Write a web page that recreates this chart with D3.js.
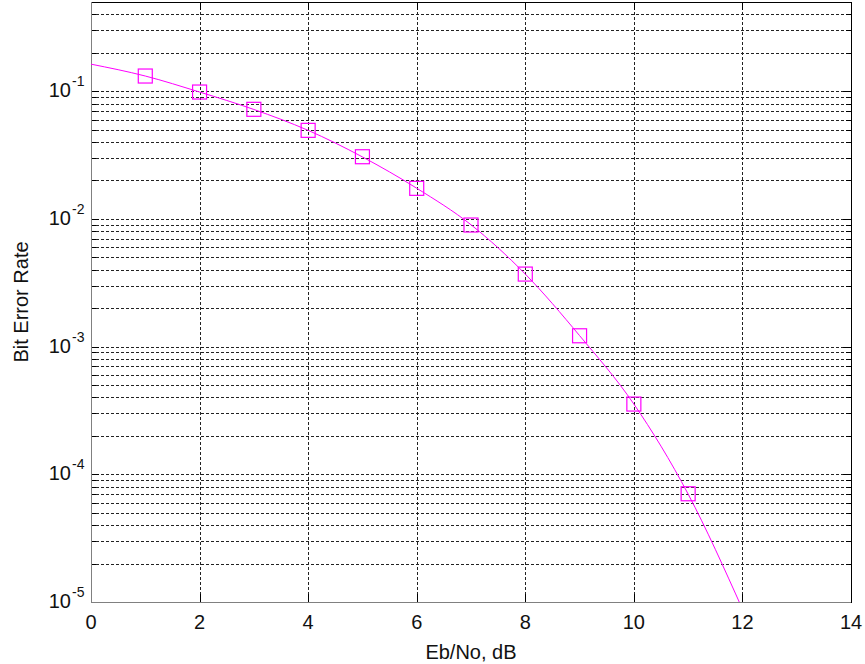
<!DOCTYPE html>
<html>
<head>
<meta charset="utf-8">
<script src="https://cdn.jsdelivr.net/npm/d3@7"></script>
<style>
  body { margin: 0; background: #fff; }
  svg { display: block; font-family: "Liberation Sans", Arial, sans-serif; }
</style>
</head>
<body>
<svg></svg>
<script>
const ebnoSim = [1, 2, 3, 4, 5, 6, 7, 8, 9, 10, 11],
  berSim = [0.1316, 0.0986, 0.0722, 0.0494, 0.0307, 0.01736, 0.00896, 0.0037, 0.001216, 0.000355, 7.04e-5],
  ebnoTheory = [0, 1, 2, 3, 4, 5, 6, 7, 8, 9, 10, 11, 12],
  berTheory = [0.163, 0.1316, 0.0986, 0.072, 0.0494, 0.0306, 0.0174, 0.009, 0.0037, 0.00122, 0.000355, 7.0e-5, 8.8e-6],
  xTicks = [0, 2, 4, 6, 8, 10, 12, 14],
  yMajor = [1e-5, 1e-4, 1e-3, 1e-2, 1e-1],
  yExp = ["-5", "-4", "-3", "-2", "-1"],
  X_LABEL = "Eb/No, dB",
  Y_LABEL = "Bit Error Rate";

const W = 865, H = 664,
  margin = { top: 2, right: 14, bottom: 62, left: 91 },
  width = W - margin.left - margin.right,
  height = H - margin.top - margin.bottom,
  magenta = "#ff00ff";

const svg = d3.select("svg").attr("width", W).attr("height", H);
const chart = svg.append("g")
  .attr("transform", "translate(" + margin.left + "," + margin.top + ")");

const x = d3.scaleLinear().domain([0, 14]).range([0, width]);
const y = d3.scaleLog().domain([1e-5, 0.5]).range([height, 0]);

// minor values 2..9 per decade, inside the domain
const yMinor = [];
yMajor.forEach(m => {
  for (let k = 2; k <= 9; k++) {
    const v = m * k;
    if (v < 0.5 + 1e-9) yMinor.push(v);
  }
});

// grid
const grid = chart.append("g")
  .attr("stroke", "#222")
  .attr("stroke-dasharray", "3,2")
  .attr("shape-rendering", "crispEdges");

grid.selectAll(".hg")
  .data(yMajor.concat(yMinor).filter(v => v > 1e-5))
  .enter().append("line")
  .attr("x1", 0).attr("x2", width)
  .attr("y1", d => Math.round(y(d)) + 0.5)
  .attr("y2", d => Math.round(y(d)) + 0.5);

grid.selectAll(".vg")
  .data(xTicks.filter(t => t > 0 && t < 14))
  .enter().append("line")
  .attr("y1", 0).attr("y2", height)
  .attr("x1", d => Math.round(x(d)) + 0.5)
  .attr("x2", d => Math.round(x(d)) + 0.5);

// inward tick marks, both sides
const ticks = chart.append("g").attr("stroke", "#000").attr("shape-rendering", "crispEdges");
function yTick(vals, len) {
  vals.forEach(v => {
    const yy = Math.round(y(v)) + 0.5;
    ticks.append("line").attr("x1", 0).attr("x2", len).attr("y1", yy).attr("y2", yy);
    ticks.append("line").attr("x1", width - len).attr("x2", width).attr("y1", yy).attr("y2", yy);
  });
}
yTick(yMajor, 8);
yTick(yMinor, 5);
xTicks.forEach(t => {
  const xx = Math.round(x(t)) + 0.5;
  ticks.append("line").attr("x1", xx).attr("x2", xx).attr("y1", height).attr("y2", height - 8);
  ticks.append("line").attr("x1", xx).attr("x2", xx).attr("y1", 0).attr("y2", 8);
});

// box
chart.append("rect")
  .attr("x", 0.5).attr("y", 0.5)
  .attr("width", width).attr("height", height)
  .attr("fill", "none").attr("stroke", "#000")
  .attr("shape-rendering", "crispEdges");
chart.append("path")
  .attr("d", "M0.5,0V" + (height + 0.5) + "H" + width)
  .attr("fill", "none").attr("stroke", "#808080")
  .attr("shape-rendering", "crispEdges");

// curve
chart.append("clipPath").attr("id", "clip")
  .append("rect").attr("width", width).attr("height", height);

const line = d3.line()
  .x((d, i) => x(ebnoTheory[i]))
  .y(d => y(d))
  .curve(d3.curveMonotoneX);

chart.append("path")
  .datum(berTheory)
  .attr("clip-path", "url(#clip)")
  .attr("fill", "none")
  .attr("stroke", magenta)
  .attr("stroke-width", 1)
  .attr("d", line);

// markers
const s = 14;
chart.selectAll(".mk")
  .data(berSim)
  .enter().append("rect")
  .attr("x", (d, i) => x(ebnoSim[i]) - s / 2)
  .attr("y", d => y(d) - s / 2)
  .attr("width", s).attr("height", s)
  .attr("fill", "none")
  .attr("stroke", magenta)
  .attr("stroke-width", 1.2);

// x tick labels
chart.selectAll(".xl")
  .data(xTicks)
  .enter().append("text")
  .attr("x", d => x(d))
  .attr("y", height + 27)
  .attr("text-anchor", "middle")
  .attr("font-size", "20px")
  .attr("fill", "#111")
  .text(d => d);

// y tick labels 10^n
yMajor.forEach((v, i) => {
  const yy = y(v);
  chart.append("text")
    .attr("x", -20)
    .attr("y", yy + 6)
    .attr("text-anchor", "end")
    .attr("font-size", "20px")
    .attr("fill", "#111")
    .text("10");
  chart.append("text")
    .attr("x", -19)
    .attr("y", yy - 5)
    .attr("font-size", "14px")
    .attr("fill", "#111")
    .text(yExp[i]);
});

// axis labels
chart.append("text")
  .attr("x", width / 2)
  .attr("y", height + 57)
  .attr("text-anchor", "middle")
  .attr("font-size", "20px")
  .attr("fill", "#111")
  .text(X_LABEL);

chart.append("text")
  .attr("transform", "rotate(-90)")
  .attr("x", -height / 2)
  .attr("y", -63)
  .attr("text-anchor", "middle")
  .attr("font-size", "20px")
  .attr("fill", "#111")
  .text(Y_LABEL);
</script>
</body>
</html>
